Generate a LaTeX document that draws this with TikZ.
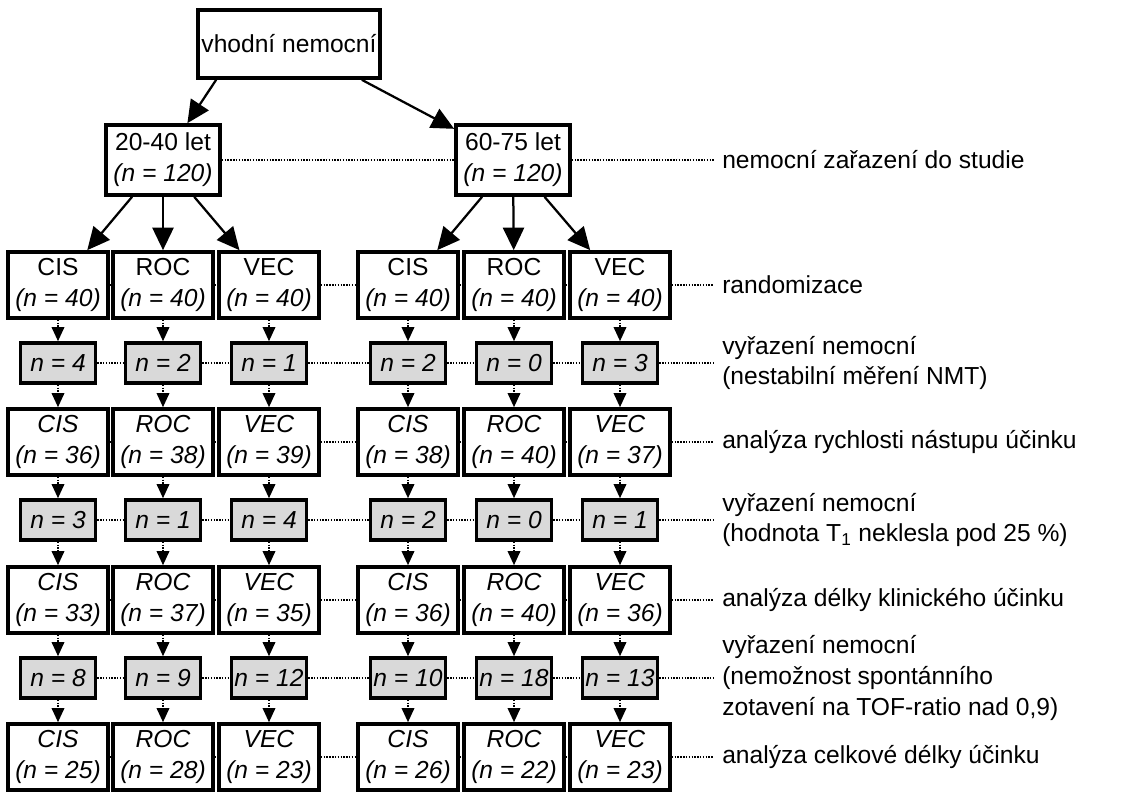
\documentclass[tikz,border=0pt]{standalone}
\usepackage{fontspec}
\setmainfont{Liberation Sans}
\usetikzlibrary{arrows.meta, positioning}
\tikzset{
    box/.style={draw, line width=2.6pt, fill=white, align=center, inner sep=0pt,
      minimum width=2.5cm, minimum height=1.65cm},
    drop/.style={box, fill=gray!30, minimum width=1.875cm, minimum height=1cm},
    link/.style={densely dotted, line width=1pt},
    flow/.style={link, -{Triangle[width=9pt,length=10pt]}},
    split/.style={line width=1.6pt, -{Triangle[width=15pt,length=16pt]}},
    note/.style={anchor=west, align=left, inner sep=0pt},
}
\begin{document}
\begin{tikzpicture}[x=0.025cm, y=-0.025cm, font=\fontsize{17.5}{22}\selectfont]
    \useasboundingbox (0,0) rectangle (1130,800);

    \node[box, minimum width=4.55cm, minimum height=1.7cm] (top) at (289,44) {vhodní nemocní};
    \node[box, minimum width=2.85cm, minimum height=1.75cm] (ageL) at (163,160) {20-40 let\\\textit{(n = 120)}};
    \node[box, minimum width=2.85cm, minimum height=1.75cm] (ageR) at (513,160) {60-75 let\\\textit{(n = 120)}};
    \draw[split] (top.south west) ++(0.5cm,0) -- (ageL);
    \draw[split] (top.south east) ++(-0.5cm,0) -- (ageR);

    % white rows
    \foreach \r/\y/\ital/\a/\b/\c/\d/\e/\f in {
        1/285/0/40/40/40/40/40/40,
        2/442/1/36/38/39/38/40/37,
        3/600/1/33/37/35/36/40/36,
        4/757/1/25/28/23/26/22/23} {
      \foreach \k/\x/\g/\n in {1/58/CIS/\a, 2/163/ROC/\b, 3/269/VEC/\c,
                               4/408/CIS/\d, 5/514/ROC/\e, 6/620/VEC/\f} {
        \ifnum\ital=1
          \node[box] (w\r\k) at (\x,\y) {\textit{\g}\\\textit{(n = \n)}};
        \else
          \node[box] (w\r\k) at (\x,\y) {\g\\\textit{(n = \n)}};
        \fi
      }
    }
    % grey rows
    \foreach \r/\y/\a/\b/\c/\d/\e/\f in {
        1/363/4/2/1/2/0/3,
        2/520/3/1/4/2/0/1,
        3/678/8/9/12/10/18/13} {
      \foreach \k/\x/\n in {1/58/\a, 2/163/\b, 3/269/\c, 4/408/\d, 5/514/\e, 6/620/\f}
        \node[drop] (g\r\k) at (\x,\y) {\textit{n = \n}};
    }

    \foreach \k in {1,2,3} {
      \draw[split] (ageL) -- (w1\k);
      \pgfmathtruncatemacro\kk{\k+3}
      \draw[split] (ageR) -- (w1\kk);
    }
    \foreach \k in {1,...,6}
      \foreach \r/\s in {1/2, 2/3, 3/4} {
        \draw[flow] (w\r\k) -- (g\r\k);
        \draw[flow] (g\r\k) -- (w\s\k);
      }

    % side notes
    \node[note] (l0) at (722,160) {nemocní zařazení do studie};
    \node[note] (l1) at (722,285) {randomizace};
    \node[note] (l2) at (722,363) {vyřazení nemocní\\(nestabilní měření NMT)};
    \node[note] (l3) at (722,442) {analýza rychlosti nástupu účinku};
    \node[note] (l4) at (722,520) {vyřazení nemocní\\(hodnota T\textsubscript{1} neklesla pod 25 \%)};
    \node[note] (l5) at (722,600) {analýza délky klinického účinku};
    \node[note] (l6) at (722,678) {vyřazení nemocní\\(nemožnost spontánního\\zotavení na TOF-ratio nad 0,9)};
    \node[note] (l7) at (722,757) {analýza celkové délky účinku};
    \draw[link] (ageL) -- (ageR) -- ([xshift=-6pt]l0.west);
    \foreach \r/\l in {1/1, 2/3, 3/5, 4/7}
      \draw[link] (w\r1) -- (w\r2) -- (w\r3) -- (w\r4) -- (w\r5) -- (w\r6) -- ([xshift=-6pt]l\l.west);
    \foreach \r/\l in {1/2, 2/4, 3/6}
      \draw[link] (g\r1) -- (g\r2) -- (g\r3) -- (g\r4) -- (g\r5) -- (g\r6) -- ([xshift=-6pt]l\l.west);
\end{tikzpicture}
\end{document}
